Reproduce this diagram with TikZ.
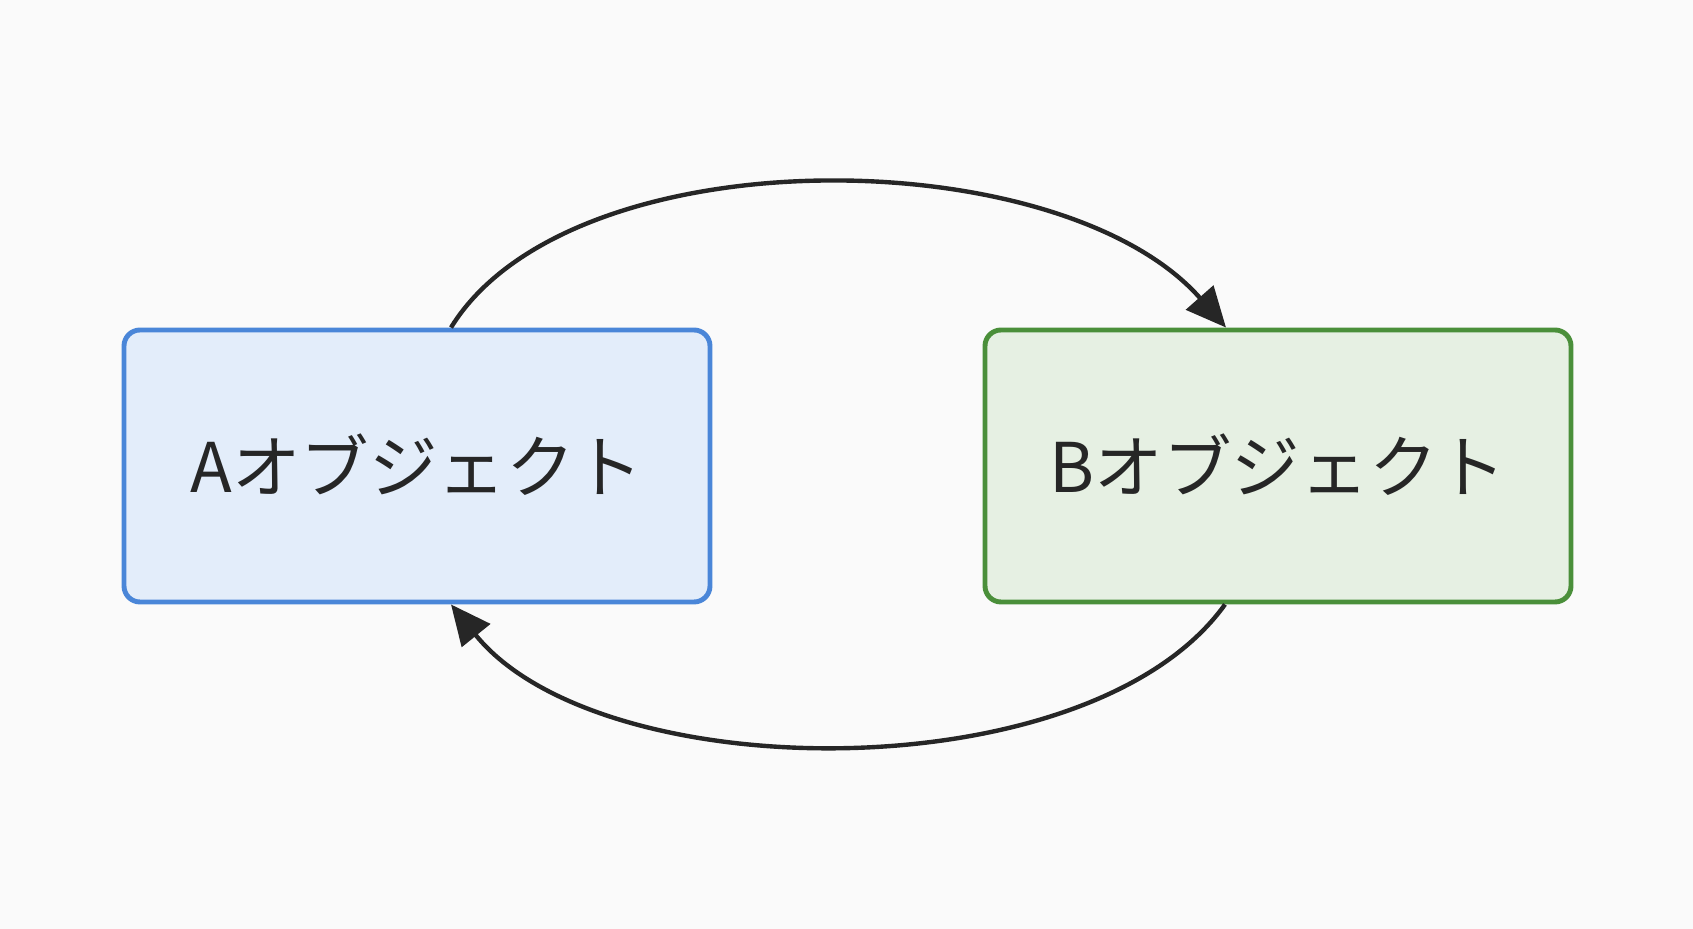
\documentclass[tikz,border=0pt]{standalone}
\usepackage{fontspec}
\newfontfamily\cjk{Noto Sans CJK JP}
\usetikzlibrary{arrows.meta}
\definecolor{blueline}{HTML}{4A86D8}
\definecolor{bluefill}{HTML}{E3EDFA}
\definecolor{greenline}{HTML}{4A8F3A}
\definecolor{greenfill}{HTML}{E6F0E3}
\begin{document}
\begin{tikzpicture}
	\tikzstyle{obj}=[rectangle, rounded corners=1.6mm, line width=1.4pt, minimum width=5.86cm, minimum height=2.72cm, font=\cjk\fontsize{19.5}{22}\selectfont, text=black!85]
	\tikzstyle{connect}=[-{Triangle[length=4mm,width=3.6mm]}, line width=1.25pt, draw=black!85]
	\fill[black!2] (0,0) rectangle (16.93,9.29);
	\useasboundingbox (0,0) rectangle (16.93,9.29);
	\node[obj, draw=blueline, fill=bluefill] (A) at (4.17,4.63) {\raisebox{0.6mm}{Aオブジェクト}};
	\node[obj, draw=greenline, fill=greenfill] (B) at (12.78,4.63) {\raisebox{0.6mm}{Bオブジェクト}};
	\coordinate (At) at ([xshift=3.4mm]A.north);
	\coordinate (Ab) at ([xshift=3.4mm]A.south);
	\coordinate (Bt) at ([xshift=-5.2mm]B.north);
	\coordinate (Bb) at ([xshift=-5.3mm]B.south);
	\draw[connect] (At) .. controls (5.7,7.95) and (10.6,7.9) .. (Bt);
	\draw[connect] (Bb) .. controls (10.9,1.36) and (6.0,1.4) .. (Ab);
\end{tikzpicture}
\end{document}
